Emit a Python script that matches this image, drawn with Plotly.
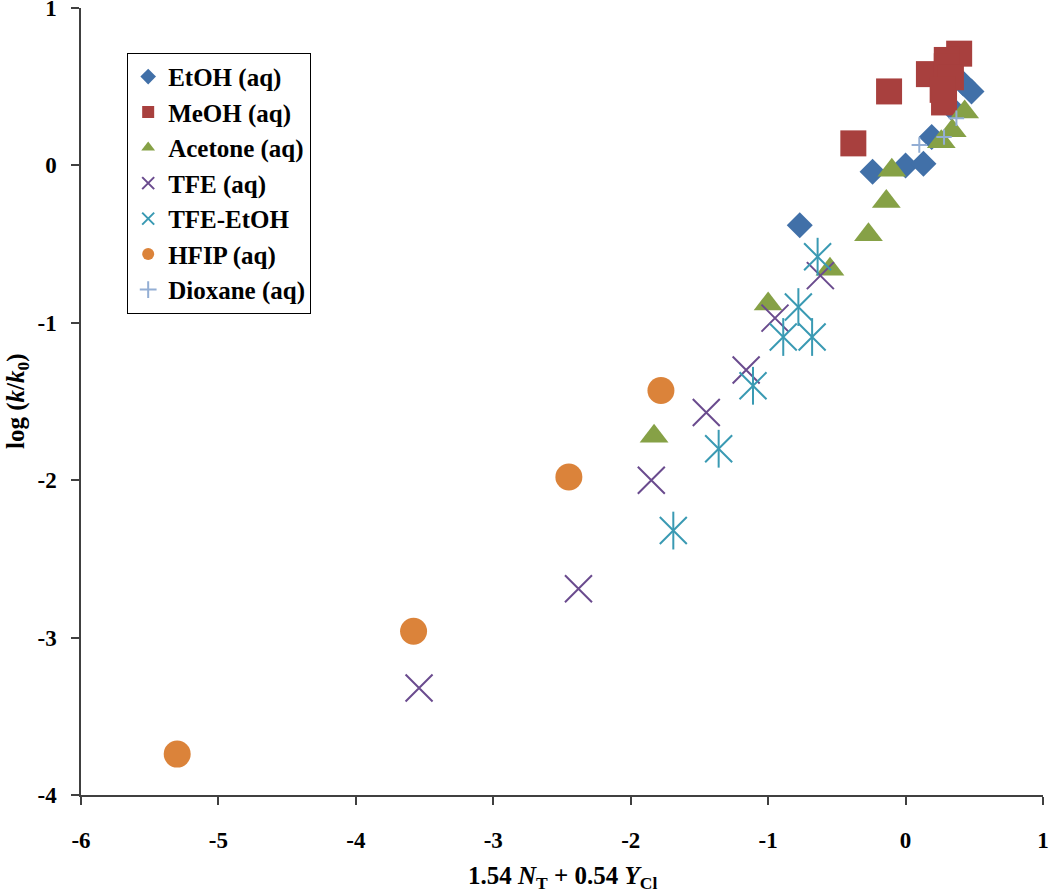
import plotly.graph_objects as go

# ---- data ----
etoh_x = [-0.77, -0.24, 0.00, 0.13, 0.19, 0.33, 0.42, 0.48]
etoh_y = [-0.38, -0.04, 0.00, 0.01, 0.18, 0.37, 0.52, 0.47]

meoh_x = [-0.38, -0.12, 0.17, 0.39, 0.30, 0.30, 0.33, 0.27, 0.28]
meoh_y = [0.14, 0.47, 0.58, 0.71, 0.67, 0.63, 0.56, 0.48, 0.40]

acet_x = [-1.83, -1.00, -0.55, -0.27, -0.14, -0.10, 0.26, 0.34, 0.43]
acet_y = [-1.72, -0.88, -0.66, -0.44, -0.23, -0.03, 0.15, 0.22, 0.34]

tfe_x = [-3.54, -2.38, -1.85, -1.45, -1.16, -0.95, -0.62]
tfe_y = [-3.32, -2.69, -2.00, -1.57, -1.30, -0.97, -0.70]

tfeetoh_x = [-1.69, -1.36, -1.11, -0.89, -0.68, -0.78, -0.64]
tfeetoh_y = [-2.32, -1.80, -1.40, -1.09, -1.09, -0.90, -0.58]

hfip_x = [-5.30, -3.58, -2.45, -1.78]
hfip_y = [-3.74, -2.96, -1.98, -1.43]

diox_x = [0.10, 0.28, 0.37]
diox_y = [0.13, 0.18, 0.30]

x_ticks = [-6, -5, -4, -3, -2, -1, 0, 1]
y_ticks = [-4, -3, -2, -1, 0, 1]

FONT = "Liberation Serif"

fig = go.Figure()

def add(name, xs, ys, symbol, color, size, thin=False, lw=2, group=None, show=True):
    marker = dict(symbol=symbol, size=size, color=color)
    if thin:
        marker["line"] = dict(color=color, width=lw)
    else:
        marker["line"] = dict(width=0)
    fig.add_trace(go.Scatter(
        x=xs, y=ys, mode="markers", name=name, marker=marker,
        legendgroup=group or name, showlegend=show, cliponaxis=False))

add("EtOH (aq)", etoh_x, etoh_y, "diamond", "#4170A8", 20)
add("MeOH (aq)", meoh_x, meoh_y, "square", "#A8403E", 26)
add("Acetone (aq)", acet_x, acet_y, "triangle-up", "#86A146", 25)
add("TFE (aq)", tfe_x, tfe_y, "x-thin", "#6A4B8E", 27, thin=True)
add("TFE-EtOH", tfeetoh_x, tfeetoh_y, "x-thin", "#3A9AB3", 27, thin=True)
add("TFE-EtOH", tfeetoh_x, tfeetoh_y, "line-ns", "#3A9AB3", 27, thin=True,
    group="TFE-EtOH", show=False)
add("HFIP (aq)", hfip_x, hfip_y, "circle", "#DB833A", 27)
add("Dioxane (aq)", diox_x, diox_y, "cross-thin", "#93AED4", 11, thin=True)

axis_common = dict(
    showgrid=False, zeroline=False, showline=True, linecolor="#404040",
    linewidth=1.5, ticks="outside", ticklen=8, tickcolor="#404040",
    tickwidth=1.5, mirror=False, automargin=False, ticklabeloverflow="allow",
    tickfont=dict(family=FONT, size=23, color="black"),
)

fig.update_xaxes(
    range=[-6, 1.0001], tickvals=x_ticks,
    ticktext=["<b>%d</b>" % v for v in x_ticks],
    ticklabelstandoff=16, **axis_common)
fig.update_yaxes(
    range=[-4, 1.0001], tickvals=y_ticks,
    ticktext=["<b>%d</b>" % v for v in y_ticks],
    ticklabelstandoff=10, **axis_common)

fig.update_layout(
    width=1050, height=894,
    margin=dict(l=81, r=7, t=8, b=99),
    paper_bgcolor="white", plot_bgcolor="white",
    font=dict(family=FONT, color="black"),
    legend=dict(
        x=0.048, y=0.943, xanchor="left", yanchor="top",
        bgcolor="white", bordercolor="black", borderwidth=1,
        font=dict(family=FONT, size=25, color="black", weight="bold"),
        traceorder="grouped", tracegroupgap=0, itemsizing="constant",
    ),
    annotations=[
        dict(text="<b>1.54 <i>N</i><sub>T</sub> + 0.54 <i>Y</i><sub>Cl</sub></b>",
             xref="paper", yref="paper", x=0.5, y=-0.105,
             xanchor="center", yanchor="middle", showarrow=False,
             font=dict(family=FONT, size=25, color="black")),
        dict(text="<b>log (<i>k</i>/<i>k</i><sub>0</sub>)</b>",
             xref="paper", yref="paper", x=-0.066, y=0.5,
             xanchor="center", yanchor="middle", showarrow=False, textangle=-90,
             font=dict(family=FONT, size=25, color="black")),
    ],
)

fig.write_html(
    "out.html",
    config={"displayModeBar": False},
    post_script="document.body.style.margin='0';document.body.style.overflow='hidden';",
)
